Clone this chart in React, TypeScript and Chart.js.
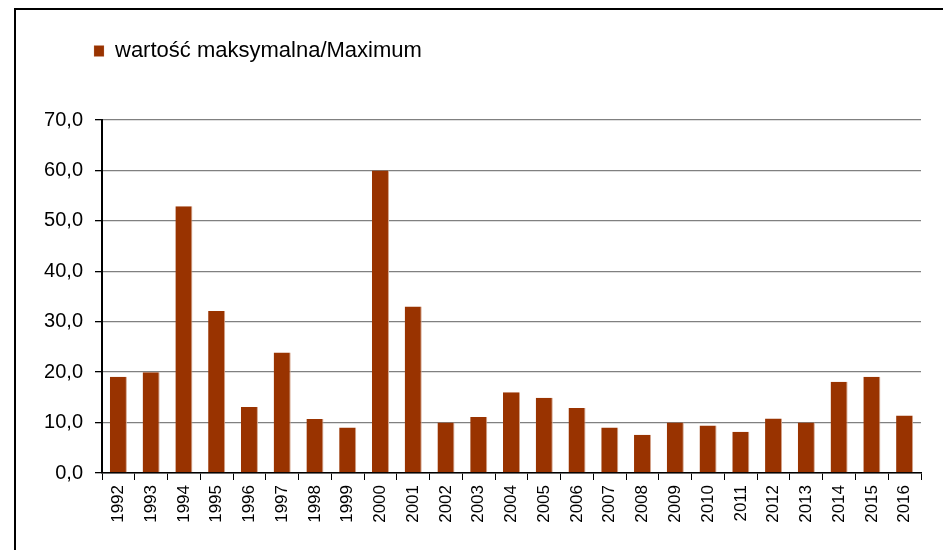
import React, { useEffect, useRef } from "react";
import { Chart, registerables } from "chart.js";

Chart.register(...registerables);

const years = [
  "1992", "1993", "1994", "1995", "1996", "1997", "1998", "1999", "2000",
  "2001", "2002", "2003", "2004", "2005", "2006", "2007", "2008", "2009",
  "2010", "2011", "2012", "2013", "2014", "2015", "2016",
];
const maximumValues = [
  19.1, 20.0, 52.9, 32.1, 13.1, 23.9, 10.7, 9.0, 60.0,
  33.0, 10.0, 11.1, 16.0, 14.9, 12.9, 9.0, 7.6, 10.0,
  9.4, 8.2, 10.8, 10.0, 18.1, 19.1, 11.4,
];
const seriesLabel = "wartość maksymalna/Maximum";
const yMin = 0;
const yMax = 70;
const yStep = 10;

const legendPlacementPlugin = {
  id: "legendPlacementPlugin",
  afterInit(chart: any) {
    const legend = chart.legend;
    if (!legend) return;
    const origFit = legend.fit;
    legend.fit = function fit() {
      origFit.call(legend);
      legend.height = 90;
    };
  },
  afterLayout(chart: any) {
    const legend = chart.legend;
    if (!legend) return;
    legend.left += 54;
    legend.right += 54;
  },
};

export default function App() {
  const canvasRef = useRef<HTMLCanvasElement | null>(null);

  useEffect(() => {
    if (!canvasRef.current) return;
    const chart = new Chart(canvasRef.current, {
      type: "bar",
      data: {
        labels: years,
        datasets: [
          {
            label: seriesLabel,
            data: maximumValues,
            backgroundColor: "#993300",
            borderColor: "#d4a58c",
            borderWidth: { top: 0, right: 1, bottom: 0, left: 0 },
            borderSkipped: false,
            barPercentage: 0.52,
            categoryPercentage: 1,
          },
        ],
      },
      options: {
        responsive: false,
        animation: false,
        devicePixelRatio: 1,
        layout: { padding: { left: 30, top: 30, right: 22, bottom: 0 } },
        plugins: {
          legend: {
            display: true,
            position: "top",
            align: "start",
            labels: {
              boxWidth: 10,
              boxHeight: 11,
              padding: 10,
              color: "#000000",
              font: { family: "'Liberation Sans', Arial, sans-serif", size: 22 },
            },
          },
          tooltip: { enabled: false },
        },
        scales: {
          x: {
            grid: {
              offset: true,
              drawOnChartArea: false,
              drawTicks: true,
              tickLength: 7,
              color: "#000000",
            },
            border: { display: true, color: "#000000", width: 1.5 },
            ticks: {
              color: "#000000",
              maxRotation: 90,
              minRotation: 90,
              padding: 5,
              autoSkip: false,
              font: { family: "'Liberation Sans', Arial, sans-serif", size: 17 },
            },
            afterFit: (scale: any) => {
              scale.height = 77;
            },
          },
          y: {
            min: yMin,
            max: yMax,
            grid: {
              color: "#808080",
              lineWidth: 1.3,
              tickLength: 7,
              tickColor: "#000000",
            },
            border: { display: true, color: "#000000", width: 2 },
            ticks: {
              stepSize: yStep,
              padding: 12,
              color: "#000000",
              font: { family: "'Liberation Sans', Arial, sans-serif", size: 20 },
              callback: (v: any) => Number(v).toFixed(1).replace(".", ","),
            },
            afterFit: (scale: any) => {
              scale.width = 72;
            },
          },
        },
      },
      plugins: [legendPlacementPlugin],
    });
    return () => chart.destroy();
  }, []);

  return (
    <div
      style={{
        position: "fixed",
        left: 0,
        top: 0,
        width: 943,
        height: 550,
        background: "#ffffff",
        overflow: "hidden",
      }}
    >
      <div
        style={{
          position: "absolute",
          left: 14,
          top: 8,
          width: 960,
          height: 600,
          borderLeft: "2px solid #000000",
          borderTop: "2px solid #000000",
          boxSizing: "border-box",
        }}
      />
      <canvas
        ref={canvasRef}
        width={943}
        height={550}
        style={{ position: "absolute", left: 0, top: 0, width: 943, height: 550 }}
      />
    </div>
  );
}
